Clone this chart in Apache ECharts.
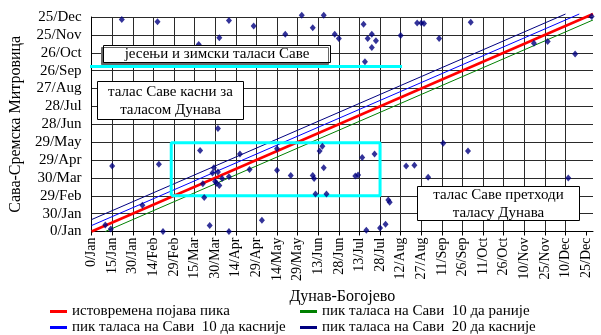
<!DOCTYPE html>
<html>
<head>
<meta charset="utf-8">
<script src="https://cdn.jsdelivr.net/npm/echarts@6/dist/echarts.min.js"></script>
<style>
  html, body { margin: 0; padding: 0; background: #fff; }
  #chart { width: 601px; height: 335px; }
</style>
</head>
<body>
<div id="chart"></div>
<script>
// Day-of-year tick labels (day 0 = 0/Jan, step 15 on x, 30 on y)
const xTickLabels = ['0/Jan','15/Jan','30/Jan','14/Feb','29/Feb','15/Mar','30/Mar','14/Apr','29/Apr',
  '14/May','29/May','13/Jun','28/Jun','13/Jul','28/Jul','12/Aug','27/Aug','11/Sep','26/Sep',
  '11/Oct','26/Oct','10/Nov','25/Nov','10/Dec','25/Dec'];
const yTickLabels = ['0/Jan','30/Jan','29/Feb','30/Mar','29/Apr','29/May','28/Jun','28/Jul',
  '27/Aug','26/Sep','26/Oct','25/Nov','25/Dec'];

// Peak day on the Danube (Богојево) and the matching peak day on the Sava (Сремска Митровица)
const danubePeak = [22, 48, 78, 93, 100, 118, 141, 153, 161, 169, 177, 180, 198, 201, 204, 207, 204, 199,
  225, 237, 240, 242, 253, 276, 322, 332, 352, 364,
  15, 10, 14, 37, 49, 52, 79, 92, 81, 82, 86, 89, 88, 92, 90, 91, 93, 95, 100, 100, 108, 115, 124,
  135, 135, 145, 161, 162, 163, 166, 168, 169, 171, 197, 206, 192, 194, 200, 210, 214, 216, 217,
  229, 235, 245, 256, 274, 347];
const savaPeak = [356, 352, 314, 325, 354, 345, 331, 363, 342, 363, 331, 324, 348, 324, 331, 320, 309, 285,
  329, 350, 350, 349, 324, 351, 316, 319, 298, 361,
  110, 11, 4, 44, 113, 0, 136, 173, 80, 57, 10, 107, 98, 100, 84, 81, 77, 89, 92, 0, 130, 104, 19,
  139, 103, 94, 94, 89, 63, 135, 143, 107, 63, 124, 130, 93, 95, 2, 6, 12, 53, 49,
  110, 111, 91, 148, 135, 90];

// Reference lines: equal peak day, Sava 10 days earlier, 10 and 20 days later
const sameDay = [[0, 0], [365, 365]];
const savaEarlier10 = [[10, 0], [365, 355]];
const savaLater10 = [[0, 10], [355, 365]];
const savaLater20 = [[0, 20], [345, 365]];

// Highlighted spring window and the autumn/winter threshold
const springBox = [[58, 60], [210, 60], [210, 149], [58, 149], [58, 60]];
const autumnLine = [[-3, 277], [226, 277]];

const seriesNames = ['истовремена појава пика', 'пик таласа на Сави  10 да раније',
  'пик таласа на Сави  10 да касније', 'пик таласа на Сави  20 да касније'];

const FONT = '"Liberation Serif", "Times New Roman", serif';
const xTicks = xTickLabels.map((_, i) => i * 15);

const chart = echarts.init(document.getElementById('chart'), null, { renderer: 'canvas' });

// Annotation text box: white fill, black frame, centred text
function boxGroup(left, top, w, h, lines, shadow) {
  return {
    type: 'group', x: left, y: top,
    children: [
      { type: 'rect', z: 100, shape: { x: 0.5, y: 0.5, width: w, height: h },
        style: Object.assign({ fill: '#fff', stroke: '#000', lineWidth: 1 },
          shadow ? { shadowColor: '#666', shadowOffsetX: -2, shadowOffsetY: 2, shadowBlur: 0 } : {}) },
      { type: 'text', z: 101, x: w / 2 + 0.5, y: h / 2 + 1,
        style: { text: lines.join('\n'), font: '15px ' + FONT, fill: '#000',
          align: 'center', verticalAlign: 'middle', lineHeight: 18 } }
    ]
  };
}

chart.setOption({
  animation: false,
  grid: { left: 81, right: 8, top: 17, bottom: 103.5 },
  xAxis: {
    type: 'value', min: 0, max: 365, interval: 15,
    name: 'Дунав-Богојево', nameLocation: 'middle', nameGap: 56,
    nameTextStyle: { fontFamily: FONT, fontSize: 16, color: '#000' },
    axisLine: { show: true, lineStyle: { color: '#000', width: 1 } },
    axisTick: { show: true, inside: false, length: 4, customValues: xTicks, lineStyle: { color: '#000' } },
    axisLabel: {
      customValues: xTicks, rotate: 90, margin: 6,
      fontFamily: FONT, fontSize: 14, color: '#000',
      formatter: v => xTickLabels[Math.round(v / 15)] || ''
    },
    splitLine: { show: true, showMaxLine: false, lineStyle: { color: '#2a2a2a', width: 1 } }
  },
  yAxis: {
    type: 'value', min: 0, max: 360, interval: 30,
    name: 'Сава-Сремска Митровица', nameLocation: 'middle', nameGap: 56,
    nameTextStyle: { fontFamily: FONT, fontSize: 16, color: '#000' },
    axisLine: { show: true, lineStyle: { color: '#000', width: 1 } },
    axisTick: { show: false },
    axisLabel: {
      margin: 10, fontFamily: FONT, fontSize: 15, color: '#000',
      formatter: v => yTickLabels[Math.round(v / 30)] || ''
    },
    splitLine: { show: true, lineStyle: { color: '#2a2a2a', width: 1 } }
  },
  legend: [
    { orient: 'vertical', left: 50, top: 304, height: 40, padding: 0, itemGap: 1,
      itemWidth: 17, itemHeight: 3, icon: 'rect',
      textStyle: { fontFamily: FONT, fontSize: 15, color: '#000' },
      data: [seriesNames[0], seriesNames[2]] },
    { orient: 'vertical', left: 300, top: 304, height: 40, padding: 0, itemGap: 1,
      itemWidth: 17, itemHeight: 3, icon: 'rect',
      textStyle: { fontFamily: FONT, fontSize: 15, color: '#000' },
      data: [seriesNames[1], seriesNames[3]] }
  ],
  graphic: [
    boxGroup(103, 45, 227, 17, ['јесењи и зимски таласи Саве'], true),
    boxGroup(97, 81, 146, 38, ['талас Саве касни за', 'таласом Дунава'], false),
    boxGroup(417, 186, 162, 34, ['талас Саве претходи', 'таласу Дунава'], false)
  ],
  series: [
    { name: seriesNames[0], type: 'line', data: sameDay, symbol: 'none', clip: false, color: '#ff0000',
      lineStyle: { color: '#ff0000', width: 2.5 }, z: 3 },
    { name: seriesNames[1], type: 'line', data: savaEarlier10, symbol: 'none', clip: false, color: '#008000',
      lineStyle: { color: '#008000', width: 1 }, z: 3 },
    { name: seriesNames[2], type: 'line', data: savaLater10, symbol: 'none', clip: false, color: '#0000ff',
      lineStyle: { color: '#0000ff', width: 1 }, z: 3 },
    { name: seriesNames[3], type: 'line', data: savaLater20, symbol: 'none', clip: false, color: '#000080',
      lineStyle: { color: '#000080', width: 1 }, z: 3 },
    { name: 'spring', type: 'line', data: springBox, symbol: 'none', clip: false,
      lineStyle: { color: '#00ffff', width: 3 }, z: 4 },
    { name: 'autumn', type: 'line', data: autumnLine, symbol: 'none', clip: false,
      lineStyle: { color: '#00ffff', width: 3 }, z: 4 },
    { name: 'peaks', type: 'scatter', clip: false, symbol: 'diamond', symbolSize: [6, 7],
      itemStyle: { color: '#000080' }, z: 5,
      data: danubePeak.map((d, i) => [d, savaPeak[i]]) }
  ]
});
</script>
</body>
</html>
